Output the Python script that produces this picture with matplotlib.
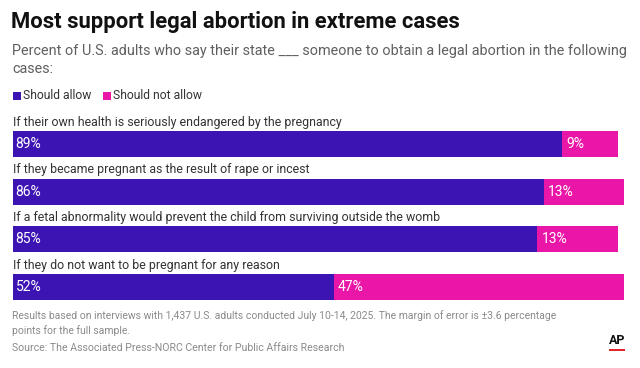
import matplotlib
matplotlib.use("Agg")
import matplotlib.pyplot as plt
from matplotlib.patches import Rectangle

categories = [
    "If their own health is seriously endangered by the pregnancy",
    "If they became pregnant as the result of rape or incest",
    "If a fetal abnormality would prevent the child from surviving outside the womb",
    "If they do not want to be pregnant for any reason",
]
should_allow = [89, 86, 85, 52]
should_not_allow = [9, 13, 13, 47]
series_names = ["Should allow", "Should not allow"]

PURPLE = "#3d14b4"
PINK = "#ea16a8"
GREY_TEXT = "#5f5f5f"
LIGHT_TEXT = "#8a8a8a"

plt.rcParams["font.family"] = ["Roboto", "DejaVu Sans"]

W, H = 640, 368
fig = plt.figure(figsize=(W / 100, H / 100), dpi=100)

def fx(px):
    return px / W

def fy(py):
    return 1 - py / H

# Titles
fig.text(fx(11), fy(22), "Most support legal abortion in extreme cases",
         fontsize=15.8, fontweight="bold", color="#111111", va="center", ha="left")
fig.text(fx(12), fy(51), "Percent of U.S. adults who say their state ___ someone to obtain a legal abortion in the following",
         fontsize=10.4, color=GREY_TEXT, va="center", ha="left")
fig.text(fx(12), fy(69), "cases:", fontsize=10.4, color=GREY_TEXT, va="center", ha="left")

# Legend
colors = [PURPLE, PINK]
lx = [13, 103]
for name, c, x in zip(series_names, colors, lx):
    fig.patches.append(Rectangle((fx(x), fy(99.5)), fx(8), 8 / H, transform=fig.transFigure,
                                 facecolor=c, edgecolor="none"))
    fig.text(fx(x + 10), fy(95.5), name, fontsize=8.7, color="#333333", va="center", ha="left")

# Bars
ax = fig.add_axes([fx(13), fy(311), fx(630) - fx(13), (311 - 120) / H])
ys = list(range(len(categories)))
bh = 0.545
ax.barh(ys, should_allow, height=bh, color=PURPLE, edgecolor="none")
ax.barh(ys, should_not_allow, left=should_allow, height=bh, color=PINK, edgecolor="none")
ax.set_xlim(0, 100)
ax.set_ylim(3.5, -0.5)
ax.axis("off")

for y, cat, a, b in zip(ys, categories, should_allow, should_not_allow):
    ax.annotate(cat, xy=(0, y - bh / 2), xytext=(-0.3, 1.6), textcoords="offset points",
                ha="left", va="bottom", fontsize=8.9, color="#333333")
    ax.annotate(f"{a}%", xy=(0, y), xytext=(1.8, 0), textcoords="offset points",
                ha="left", va="center", fontsize=10, color="white")
    ax.annotate(f"{b}%", xy=(a, y), xytext=(3.0, 0), textcoords="offset points",
                ha="left", va="center", fontsize=10, color="white")

# Footnotes
fig.text(fx(12), fy(316), "Results based on interviews with 1,437 U.S. adults conducted July 10-14, 2025. The margin of error is \u00b13.6 percentage",
         fontsize=7.45, color=LIGHT_TEXT, va="center", ha="left")
fig.text(fx(12), fy(331), "points for the full sample.", fontsize=7.45, color=LIGHT_TEXT, va="center", ha="left")
fig.text(fx(12), fy(348), "Source: The Associated Press-NORC Center for Public Affairs Research",
         fontsize=7.6, color=LIGHT_TEXT, va="center", ha="left")

# AP logo
fig.text(fx(617), fy(341), "AP", fontsize=9, fontweight="bold", color="#111111", va="center", ha="center")
fig.patches.append(Rectangle((fx(609), fy(351)), fx(16), 2 / H, transform=fig.transFigure,
                             facecolor="#e3262b", edgecolor="none"))

fig.savefig("out.png", dpi=100, facecolor="white")
